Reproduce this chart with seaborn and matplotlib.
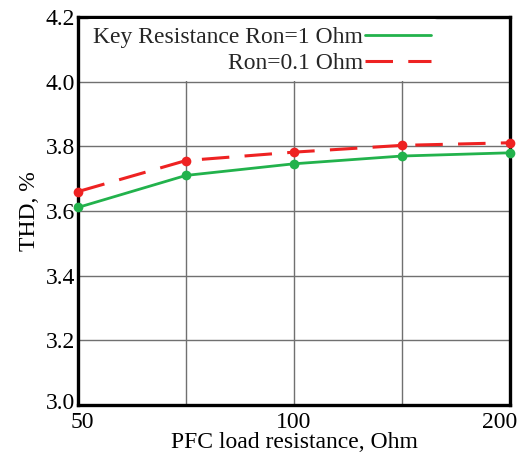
import matplotlib
matplotlib.use("Agg")
import matplotlib.pyplot as plt
import matplotlib.transforms as mtransforms
from matplotlib.lines import Line2D
import seaborn as sns
import pandas as pd
import numpy as np

# Data
load_resistance = [50, 70.7, 100, 141.4, 200]
thd_ron_1 = [3.611, 3.710, 3.746, 3.770, 3.780]
thd_ron_01 = [3.660, 3.756, 3.782, 3.803, 3.811]
series_labels = ["Key Resistance Ron=1 Ohm", "Ron=0.1 Ohm"]
x_ticks = [50, 100, 200]
y_ticks = [3.0, 3.2, 3.4, 3.6, 3.8, 4.0, 4.2]

sns.set_theme(style="white")
plt.rcParams["font.family"] = ["Liberation Serif", "DejaVu Serif"]

GREEN = "#22b24c"
RED = "#ee2222"
FS = 17

fig = plt.figure(figsize=(5.21, 4.57), dpi=100)
ax = fig.add_axes([0.1497, 0.1138, 0.829, 0.849])

df1 = pd.DataFrame({"x": load_resistance, "y": thd_ron_1})
df2 = pd.DataFrame({"x": load_resistance, "y": thd_ron_01})

sns.lineplot(data=df1, x="x", y="y", ax=ax, color=GREEN, lw=2.0,
             marker="o", markersize=7, markeredgewidth=0, zorder=5, clip_on=False)
sns.lineplot(data=df2, x="x", y="y", ax=ax, color=RED, lw=2.2,
             marker="o", markersize=7, markeredgewidth=0, zorder=6, clip_on=False)
ax.lines[1].set_dashes((9, 5))

ax.set_xscale("log", base=2)
ax.set_xlim(50, 200)
ax.set_ylim(3.0, 4.2)
ax.set_xticks(x_ticks)
ax.set_xticklabels([str(t) for t in x_ticks])
ax.set_xticks([50 * np.sqrt(2), 100 * np.sqrt(2)], minor=True)
ax.xaxis.set_minor_formatter(matplotlib.ticker.NullFormatter())
ax.set_yticks(y_ticks)
ax.set_yticklabels([f"{t:.1f}" for t in y_ticks])

ax.grid(True, which="both", color="#707070", lw=1.0)
ax.set_axisbelow(True)
ax.tick_params(axis="y", which="both", length=0, labelsize=FS, pad=2, colors="black")
ax.tick_params(axis="x", which="both", length=0, labelsize=FS, pad=5, colors="black")

# nudge edge tick labels so they stay inside the figure and apart
xlabels = ax.get_xticklabels()
xlabels[-1].set_transform(xlabels[-1].get_transform() +
                          mtransforms.ScaledTranslation(-0.10, 0, fig.dpi_scale_trans))
xlabels[0].set_transform(xlabels[0].get_transform() +
                         mtransforms.ScaledTranslation(0.04, 0, fig.dpi_scale_trans))
ylabels = ax.get_yticklabels()
ylabels[0].set_transform(ylabels[0].get_transform() +
                         mtransforms.ScaledTranslation(0, 0.04, fig.dpi_scale_trans))

for s in ax.spines.values():
    s.set_visible(True)
    s.set_color("black")
    s.set_linewidth(2.4)

ax.set_xlabel("PFC load resistance, Ohm", fontsize=FS, color="black", labelpad=-1)
ax.set_ylabel("THD, %", fontsize=FS, color="black", labelpad=4)

handles = [Line2D([], [], color=GREEN, lw=2.0),
           Line2D([], [], color=RED, lw=2.2, dashes=(9, 5))]
leg = ax.legend(handles, series_labels, loc="upper right",
                bbox_to_anchor=(0.84, 1.0), markerfirst=False, frameon=True,
                facecolor="white", edgecolor="none", framealpha=1.0,
                fontsize=FS, handlelength=2.8, handletextpad=0.1,
                labelspacing=0.2, borderpad=0.3, borderaxespad=0.1)
leg.get_frame().set_linewidth(0)

fig.savefig("out.png", dpi=100)
